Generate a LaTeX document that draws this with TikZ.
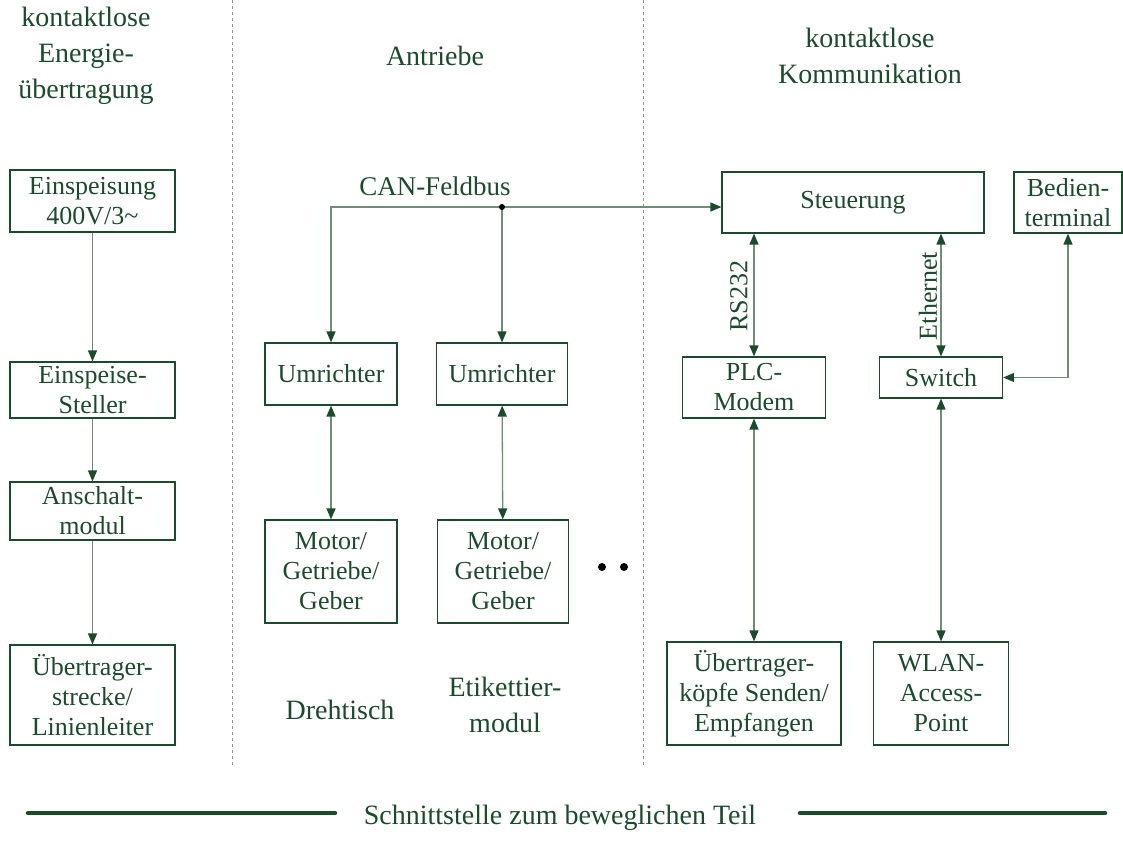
\documentclass[tikz,border=0pt]{standalone}
\usepackage{fontspec}
\setmainfont{Liberation Serif}
\usetikzlibrary{arrows.meta}

\definecolor{dgruen}{RGB}{28,74,44}
\definecolor{lgruen}{RGB}{110,142,122}
\definecolor{trenn}{RGB}{140,150,145}

\tikzset{
  kasten/.style={draw=dgruen, line width=1.2pt, text=dgruen, align=center, inner sep=0pt,
    font=\fontsize{26}{30}\selectfont},
  titel/.style={text=dgruen, align=center, font=\fontsize{28}{36}\selectfont},
  beschr/.style={text=dgruen, font=\fontsize{26}{30}\selectfont},
  verb/.style={draw=lgruen, line width=1.3pt, -{Triangle[length=11pt,width=9pt,color=dgruen]}},
  verbb/.style={verb, {Triangle[length=11pt,width=9pt,color=dgruen]}-{Triangle[length=11pt,width=9pt,color=dgruen]}},
}

\begin{document}
\begin{tikzpicture}[x=1pt, y=-1pt]
    \useasboundingbox (0,0) rectangle (1123,840);
    % Trennlinien
    \coordinate (t1o) at (232,0);   \coordinate (t1u) at (232,765);
    \coordinate (t2o) at (643,0);   \coordinate (t2u) at (643,765);
    \draw[trenn, dashed, line width=1pt] (t1o) -- (t1u);
    \draw[trenn, dashed, line width=1pt] (t2o) -- (t2u);

    % Ueberschriften
    \node[titel] (h1) at (86,56) {kontaktlose\\Energie-\\übertragung};
    \node[titel] (h2) at (435,56) {Antriebe};
    \node[titel] (h3) at (870,56) {kontaktlose\\Kommunikation};

    % Energieuebertragung
    \node[kasten, minimum width=165, minimum height=62] (einsp) at (92.5,201) {Einspeisung\\400V/3\char`~};
    \node[kasten, minimum width=165, minimum height=56] (steller) at (92.5,390) {Einspeise-\\Steller};
    \node[kasten, minimum width=165, minimum height=58] (anschalt) at (92.5,511) {Anschalt-\\modul};
    \node[kasten, minimum width=165, minimum height=100] (strecke) at (92.5,695) {Übertrager-\\strecke/\\Linienleiter};
    \draw[verb] (einsp) -- (steller);
    \draw[verb] (steller) -- (anschalt);
    \draw[verb] (anschalt) -- (strecke);

    % Antriebe
    \node[kasten, minimum width=132, minimum height=62] (umr1) at (331,374) {Umrichter};
    \node[kasten, minimum width=131, minimum height=62] (umr2) at (502,374) {Umrichter};
    \node[kasten, minimum width=132, minimum height=103] (mot1) at (331,571.5) {Motor/\\Getriebe/\\Geber};
    \node[kasten, minimum width=131, minimum height=103] (mot2) at (503,571.5) {Motor/\\Getriebe/\\Geber};
    \node[titel] (dreh) at (340,710) {Drehtisch};
    \node[titel] (etik) at (505,705) {Etikettier-\\modul};
    \fill (602,567) circle (4pt);
    \fill (624,567) circle (4pt);
    \draw[verbb] (umr1) -- (mot1);
    \draw[verbb] (umr2) -- (mot2);

    % Kommunikation
    \node[kasten, minimum width=262, minimum height=61] (steuer) at (853,202.5) {Steuerung};
    \node[kasten, minimum width=108, minimum height=61] (bedien) at (1068,202.5) {Bedien-\\terminal};
    \node[kasten, minimum width=143, minimum height=61] (plc) at (754,387.5) {PLC-\\Modem};
    \node[kasten, minimum width=123, minimum height=41] (switch) at (941,377.5) {Switch};
    \node[kasten, minimum width=174, minimum height=103] (koepfe) at (754,693.5) {Übertrager-\\köpfe Senden/\\Empfangen};
    \node[kasten, minimum width=135, minimum height=103] (wlan) at (941,693.5) {WLAN-\\Access-\\Point};

    % Feldbus
    \coordinate (bus) at (502,207);
    \node[beschr, font=\fontsize{27}{30}\selectfont] (can) at (435,186) {CAN-Feldbus};
    \draw[verb] (bus) -- (bus -| steuer.west);
    \draw[verb] (bus) -- (bus -| umr1.north) -- (umr1.north);
    \draw[verb] (bus) -- (umr2.north);
    \fill (bus) circle (3pt);

    \draw[verbb] (plc.north) -- (plc.north |- steuer.south);
    \draw[verbb] (switch.north) -- (switch.north |- steuer.south);
    \draw[verbb] (bedien.south) |- (switch.east);
    \draw[verbb] (plc) -- (koepfe);
    \draw[verbb] (switch) -- (wlan);
    \node[beschr, rotate=90] (rs) at (739,296) {RS232};
    \node[beschr, rotate=90] (eth) at (928,296) {Ethernet};

    % Schnittstelle
    \node[titel] (schnitt) at (560,818) {Schnittstelle zum beweglichen Teil};
    \coordinate (sl1) at (28,813);  \coordinate (sl2) at (335,813);
    \coordinate (sr1) at (800,813); \coordinate (sr2) at (1105,813);
    \draw[dgruen, line width=4.5pt, line cap=round] (sl1) -- (sl2);
    \draw[dgruen, line width=4.5pt, line cap=round] (sr1) -- (sr2);
\end{tikzpicture}
\end{document}
